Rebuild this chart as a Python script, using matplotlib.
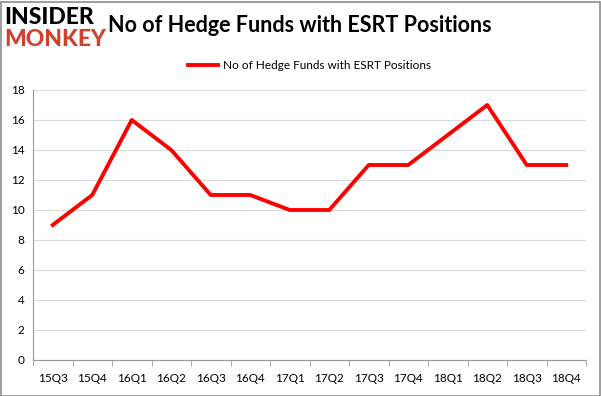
import matplotlib
matplotlib.use("Agg")
import matplotlib.pyplot as plt
from matplotlib.patches import Rectangle

quarters = ["15Q3", "15Q4", "16Q1", "16Q2", "16Q3", "16Q4", "17Q1",
            "17Q2", "17Q3", "17Q4", "18Q1", "18Q2", "18Q3", "18Q4"]
funds = [9, 11, 16, 14, 11, 11, 10, 10, 13, 13, 15, 17, 13, 13]
yticks = list(range(0, 19, 2))

plt.rcParams['font.family'] = ['Lato', 'DejaVu Sans']

fig = plt.figure(figsize=(6.01, 3.96), dpi=100)
# plot area in pixels: x 33..586, y 90..360
ax = fig.add_axes([33 / 601, 1 - 360 / 396, 553 / 601, 270 / 396])

x = list(range(len(quarters)))
ax.plot(x, funds, color="#ff0000", linewidth=2.8, label="No of Hedge Funds with ESRT Positions")

ax.set_xlim(-0.5, len(quarters) - 0.5)
ax.set_ylim(0, 18)
ax.set_yticks(yticks)
ax.set_yticklabels([str(v) for v in yticks], fontsize=8.5)
ax.set_xticks(x)
ax.set_xticklabels(quarters, fontsize=8.5)
ax.set_xticks([i - 0.5 for i in range(len(quarters) + 1)], minor=True)
ax.tick_params(axis="x", which="major", length=0, pad=9)
ax.tick_params(axis="x", which="minor", length=4, color="#999999")
ax.tick_params(axis="y", length=0, pad=6)
ax.grid(axis="y", color="#d9d9d9", linewidth=0.8)
ax.set_axisbelow(True)
for side in ["top", "right"]:
    ax.spines[side].set_visible(False)
ax.spines["left"].set_color("#999999")
ax.spines["bottom"].set_color("#999999")

fig.text(300 / 601, 1 - 26 / 396, "No of Hedge Funds with ESRT Positions",
         ha="center", va="center", fontsize=15.5, fontweight="bold")
fig.text(4 / 601, 1 - 18 / 396, "INSIDER", ha="left", va="center",
         fontsize=16.5, fontweight="black", color="black")
fig.text(4 / 601, 1 - 39 / 396, "MONKEY", ha="left", va="center",
         fontsize=16.5, fontweight="black", color="#d2402c")

ax.legend(loc="lower center", bbox_to_anchor=(0.5, 1.03), frameon=False,
          fontsize=8.5, handlelength=2.6, handletextpad=0.4)

fig.add_artist(Rectangle((0.5 / 601, 0.5 / 396), 599 / 601, 394 / 396,
                         transform=fig.transFigure, fill=False,
                         edgecolor="#8c8c8c", linewidth=1.2))

fig.savefig("out.png", dpi=100)
